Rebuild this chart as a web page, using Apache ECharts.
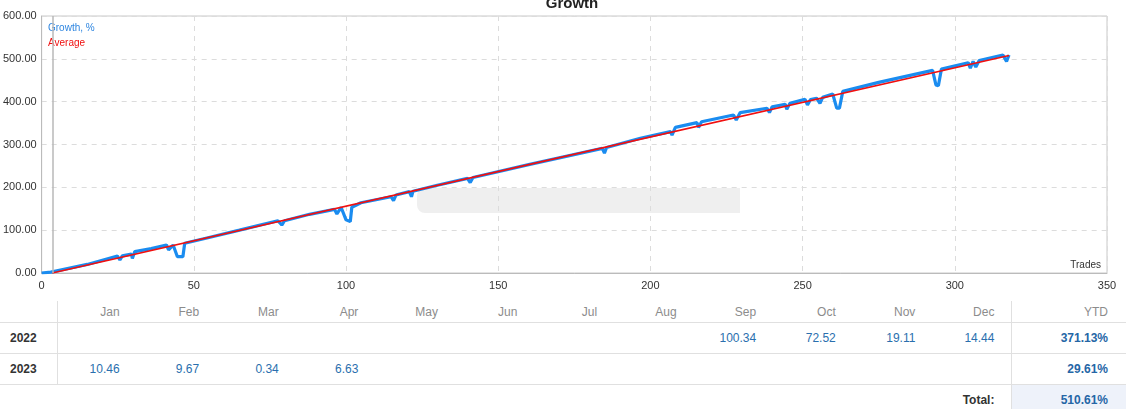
<!DOCTYPE html>
<html>
<head>
    <meta charset="utf-8">
    <title>Growth</title>
    <script src="https://cdn.jsdelivr.net/npm/echarts@6/dist/echarts.min.js"></script>
    <style>
        body { margin: 0; background: #fff; font-family: "Liberation Sans", Arial, sans-serif; }
        #main { position: absolute; left: 0; top: 0; width: 1144px; height: 300px; }
        #stats { position: absolute; left: 0; top: 301px; width: 1126px; border-collapse: collapse; table-layout: fixed; font-size: 12px; }
        #stats td { padding: 0 17px 0 0; text-align: right; white-space: nowrap; }
        #stats tr.head td { height: 21px; color: #8c8c8c; border-bottom: 1px solid #e0e0e0; }
        #stats tr.row td { height: 30px; color: #2a6fae; border-bottom: 1px solid #e0e0e0; }
        #stats td.year { text-align: left; padding-left: 10px; font-weight: bold; color: #333 !important; border-right: 1px solid #e0e0e0; }
        #stats td.ytd { padding-right: 18px; border-left: 1px solid #e0e0e0; font-weight: bold; color: #2566a6 !important; }
        #stats tr.total td { height: 16px; padding-top: 8px; vertical-align: top; line-height: 14px; }
        #stats tr.total td.lab { font-weight: bold; color: #333; }
        #stats tr.total td.ytd { background: #eef2fa; }
    </style>
</head>
<body>
    <div id="main"></div>
    <table id="stats"></table>
    <script type="text/javascript">
        // growth curve (trade number / growth %)
        var trades = [0, 3, 5, 15, 24.9, 25.7, 26.5, 29.5, 29.8, 30.6, 36, 41, 41.7, 43.2, 44.6, 46.4, 47,
            55, 65, 77.6, 78.9, 79.8, 88, 96.2, 97, 98.4, 100, 101.4, 101.9, 104.9,
            114.8, 115.6, 116.4, 120.8, 121.5, 122, 130, 139.9, 140.8, 141.7,
            160, 184.2, 184.9, 185.6, 196.7, 206.6, 207.1, 208.2, 215.3, 215.8, 216.8,
            227.3, 228.2, 229.5, 238.3, 239.1, 240, 244.3, 244.8, 245.8,
            250.8, 251.6, 252.6, 254.6, 255.7, 256.6, 259.9, 261.2, 262.1, 263.2,
            275, 292.7, 293.8, 294.6, 295.6, 304.4, 305.1, 306, 306.9, 308, 315.8, 317, 317.8];
        var growth = [0, 2, 5, 20, 39.7, 30.4, 40, 44, 34, 50, 57, 65.4, 53.7, 65.4, 38, 38, 69.4,
            83, 100, 122, 112, 122, 137, 148.7, 138, 153, 124, 120, 153.5, 164,
            178, 169, 182, 190, 178, 191, 205, 221, 211, 223,
            253, 291, 280, 293, 314.7, 330, 322, 340, 351, 340, 353,
            369, 357, 374.5, 384.6, 374.5, 388, 394, 382, 396,
            405.6, 392.5, 405, 408, 396, 410, 418, 385, 385, 424,
            445, 473, 439, 437, 476, 491, 478, 494, 480.6, 496, 509, 494, 509];

        // average line
        var avgTrades = [3.5, 160, 317.8];
        var avgValues = [0, 253, 508];

        var xTicks = [0, 350, 50];      // min, max, step
        var yTicks = [0, 600, 100];

        // monthly table
        var months = ['Jan', 'Feb', 'Mar', 'Apr', 'May', 'Jun', 'Jul', 'Aug', 'Sep', 'Oct', 'Nov', 'Dec'];
        var years = ['2022', '2023'];
        var monthly2022 = [null, null, null, null, null, null, null, null, 100.34, 72.52, 19.11, 14.44];
        var monthly2023 = [10.46, 9.67, 0.34, 6.63, null, null, null, null, null, null, null, null];
        var ytd = ['371.13%', '29.61%'];
        var total = '510.61%';

        // ---- chart
        var myChart = echarts.init(document.getElementById('main'));

        var zip = function (xs, ys) {
            return xs.map(function (x, i) { return [x, ys[i]]; });
        };

        var option = {
            animation: false,
            title: {
                text: 'Growth',
                left: 'center',
                top: -9,
                textStyle: { fontSize: 15, fontWeight: 'bold', color: '#222', fontFamily: 'Liberation Sans' }
            },
            grid: {
                left: 40, right: 37, top: 16, bottom: 27,
                show: true, borderColor: '#c8c8c8', borderWidth: 1
            },
            xAxis: {
                type: 'value',
                min: xTicks[0], max: xTicks[1], interval: xTicks[2],
                axisLine: { lineStyle: { color: '#bbb' } },
                axisTick: { show: false },
                axisLabel: { color: '#333', fontSize: 11, margin: 7, fontFamily: 'Liberation Sans' },
                splitLine: { lineStyle: { color: '#dcdcdc', type: [5, 5] } }
            },
            yAxis: {
                type: 'value',
                min: yTicks[0], max: yTicks[1], interval: yTicks[2],
                axisLine: { show: true, lineStyle: { color: '#bbb' } },
                axisTick: { show: false },
                axisLabel: {
                    color: '#333', fontSize: 11, margin: 5, fontFamily: 'Liberation Sans',
                    formatter: function (v) { return v.toFixed(2); }
                },
                splitLine: { lineStyle: { color: '#dcdcdc', type: [5, 5] } }
            },
            graphic: [
                { type: 'rect', left: 417, top: 188, shape: { width: 323, height: 25, r: [8, 0, 0, 8] },
                  style: { fill: '#efefef' }, silent: true },
                { type: 'text', left: 48, top: 23, style: { text: 'Growth, %', fill: '#2f86e0', font: '10px "Liberation Sans"' } },
                { type: 'text', left: 48, top: 38, style: { text: 'Average', fill: '#f01010', font: '10px "Liberation Sans"' } },
                { type: 'text', right: 43, top: 260, style: { text: 'Trades', fill: '#333', font: '10px "Liberation Sans"' } }
            ],
            series: [{
                name: 'Growth, %',
                type: 'line',
                data: zip(trades, growth),
                showSymbol: false,
                lineStyle: { color: '#1a8cf0', width: 3.2 },
                z: 2
            }, {
                name: 'Average',
                type: 'line',
                data: zip(avgTrades, avgValues),
                showSymbol: false,
                lineStyle: { color: '#f01010', width: 1.6 },
                z: 3,
                markLine: {
                    silent: true,
                    symbol: 'none',
                    label: { show: false },
                    lineStyle: { color: '#b8b8b8', width: 1.5, type: 'solid' },
                    data: [{ xAxis: 3.8 }]
                }
            }]
        };
        myChart.setOption(option);

        // ---- table
        var fmt = function (v) { return v === null ? '' : v.toFixed(2); };
        var html = '<colgroup><col style="width:57px">';
        months.forEach(function () { html += '<col style="width:79.58px">'; });
        html += '<col style="width:114px"></colgroup>';
        html += '<tr class="head"><td class="year"></td>';
        months.forEach(function (m) { html += '<td>' + m + '</td>'; });
        html += '<td class="ytd" style="color:#8c8c8c !important;font-weight:normal">YTD</td></tr>';
        [monthly2022, monthly2023].forEach(function (row, i) {
            html += '<tr class="row"><td class="year">' + years[i] + '</td>';
            row.forEach(function (v) { html += '<td>' + fmt(v) + '</td>'; });
            html += '<td class="ytd">' + ytd[i] + '</td></tr>';
        });
        html += '<tr class="total"><td></td>';
        for (var i = 0; i < 11; i++) html += '<td></td>';
        html += '<td class="lab">Total:</td><td class="ytd">' + total + '</td></tr>';
        document.getElementById('stats').innerHTML = html;
    </script>
</body>
</html>
